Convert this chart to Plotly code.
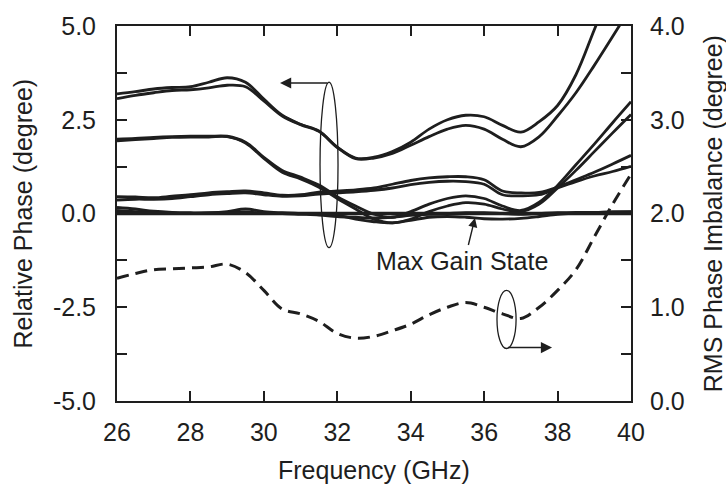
import plotly.graph_objects as go

freq = [26, 26.5, 27, 27.5, 28, 28.5, 29, 29.5, 30, 30.5, 31, 31.5, 32, 32.5, 33,
        33.5, 34, 34.5, 35, 35.5, 36, 36.5, 37, 37.5, 38, 38.5, 39, 39.5, 40]

phase_a = [3.19, 3.25, 3.32, 3.36, 3.38, 3.50, 3.62, 3.50, 3.05, 2.62, 2.38, 2.20, 1.77, 1.48, 1.50,
           1.65, 1.90, 2.25, 2.50, 2.62, 2.58, 2.35, 2.17, 2.45, 2.88, 3.70, 4.90, 6.10, 7.30]
phase_b = [3.06, 3.15, 3.22, 3.28, 3.30, 3.35, 3.42, 3.38, 3.00, 2.60, 2.37, 2.19, 1.76, 1.46, 1.48,
           1.60, 1.82, 2.05, 2.25, 2.35, 2.25, 1.98, 1.78, 2.05, 2.60, 3.22, 3.95, 4.72, 5.50]
phase_c1 = [1.98, 2.00, 2.03, 2.05, 2.06, 2.06, 2.06, 1.90, 1.50, 1.15, 0.97, 0.76, 0.45, 0.20, -0.02,
            -0.10, 0.05, 0.25, 0.40, 0.47, 0.40, 0.20, 0.08, 0.30, 0.75, 1.30, 1.85, 2.42, 2.98]
phase_c2 = [1.94, 1.97, 2.00, 2.03, 2.04, 2.04, 2.05, 1.88, 1.47, 1.10, 0.92, 0.70, 0.40, 0.12, -0.15,
            -0.25, -0.15, 0.05, 0.20, 0.29, 0.25, 0.12, 0.05, 0.25, 0.68, 1.15, 1.65, 2.15, 2.64]
phase_d1 = [0.45, 0.44, 0.42, 0.46, 0.50, 0.55, 0.58, 0.60, 0.55, 0.49, 0.50, 0.57, 0.60, 0.63, 0.68,
            0.78, 0.88, 0.95, 0.98, 0.98, 0.90, 0.60, 0.55, 0.56, 0.70, 0.90, 1.10, 1.32, 1.55]
phase_d2 = [0.36, 0.38, 0.38, 0.40, 0.45, 0.50, 0.53, 0.55, 0.50, 0.46, 0.47, 0.52, 0.55, 0.58, 0.62,
            0.68, 0.77, 0.83, 0.86, 0.85, 0.78, 0.50, 0.47, 0.50, 0.68, 0.85, 1.00, 1.12, 1.26]
phase_e1 = [0.16, 0.12, 0.06, 0.03, 0.02, 0.02, 0.05, 0.12, 0.05, 0.02, 0.00, -0.02, -0.05, -0.15, -0.22,
            -0.25, -0.18, -0.10, -0.08, -0.10, -0.14, -0.15, -0.13, -0.08, -0.02, 0.01, 0.03, 0.04, 0.05]
phase_e2 = [0.08, 0.05, 0.03, 0.01, 0.00, 0.01, 0.02, 0.04, 0.01, 0.00, -0.02, -0.04, -0.08, -0.10, -0.12,
            -0.10, -0.05, -0.02, 0.00, 0.02, 0.02, 0.00, -0.02, 0.00, 0.02, 0.03, 0.03, 0.04, 0.04]
phase_ref = [0.0] * len(freq)

rms = [1.31, 1.36, 1.40, 1.41, 1.42, 1.43, 1.46, 1.37, 1.18, 0.98, 0.93, 0.85, 0.72, 0.67, 0.69,
       0.75, 0.82, 0.92, 1.00, 1.05, 1.00, 0.93, 0.88, 1.00, 1.18, 1.40, 1.75, 2.10, 2.42]

x_ticks = [26, 28, 30, 32, 34, 36, 38, 40]
y1_ticks = [-5, -2.5, 0, 2.5, 5]
y1_text = ["-5.0", "-2.5", "0.0", "2.5", "5.0"]
y2_ticks = [0, 1, 2, 3, 4]
y2_text = ["0.0", "1.0", "2.0", "3.0", "4.0"]

INK = "#1e1e1e"
FONT = "Liberation Sans, Arial, sans-serif"
FS = 25

fig = go.Figure()
for s in [phase_a, phase_b, phase_c1, phase_c2, phase_d1, phase_d2, phase_e1, phase_e2]:
    fig.add_trace(go.Scatter(x=freq, y=s, mode="lines", line=dict(color=INK, width=2.8, shape="spline"),
                             showlegend=False))
fig.add_trace(go.Scatter(x=freq, y=phase_ref, mode="lines", line=dict(color=INK, width=3.6),
                         showlegend=False))
fig.add_trace(go.Scatter(x=freq, y=rms, mode="lines", yaxis="y2",
                         line=dict(color=INK, width=3, dash="12px,7px", shape="spline"),
                         showlegend=False))

axis_common = dict(showline=True, linewidth=2, linecolor=INK, ticks="inside", ticklen=10,
                   tickwidth=1.8, tickcolor=INK, showgrid=False, zeroline=False,
                   tickfont=dict(family=FONT, size=FS, color=INK))

fig.update_layout(
    width=726, height=490, margin=dict(l=117, r=95, t=15, b=89),
    paper_bgcolor="white", plot_bgcolor="white",
    xaxis=dict(range=[26, 40], tickvals=x_ticks, mirror="ticks", ticklabelstandoff=8, **axis_common),
    yaxis=dict(range=[-5, 5], tickvals=y1_ticks, ticktext=y1_text, ticklabelstandoff=14,
               minor=dict(dtick=1.25, ticks="inside", ticklen=10, tickwidth=1.8, tickcolor=INK),
               **axis_common),
    yaxis2=dict(range=[0, 4], tickvals=y2_ticks, ticktext=y2_text, overlaying="y", side="right",
                ticklabelstandoff=12,
                minor=dict(dtick=0.5, ticks="inside", ticklen=10, tickwidth=1.8, tickcolor=INK),
                **axis_common),
)

# titles
fig.add_annotation(text="Frequency (GHz)", xref="paper", yref="paper", x=0.5, y=-0.183,
                   showarrow=False, font=dict(family=FONT, size=FS, color=INK), yanchor="middle")
fig.add_annotation(text="Relative Phase (degree)", xref="paper", yref="paper", x=-0.183, y=0.5,
                   textangle=-90, showarrow=False, font=dict(family=FONT, size=FS, color=INK),
                   xanchor="center", yanchor="middle")
fig.add_annotation(text="RMS Phase Imbalance (degree)", xref="paper", yref="paper", x=1.159, y=0.5,
                   textangle=-90, showarrow=False, font=dict(family=FONT, size=FS, color=INK),
                   xanchor="center", yanchor="middle")

# ellipses
fig.add_shape(type="circle", xref="x", yref="y", x0=31.53, x1=32.02, y0=-0.91, y1=3.5,
              line=dict(color=INK, width=1.3))
fig.add_shape(type="circle", xref="x", yref="y2", x0=36.35, x1=36.87, y0=0.56, y1=1.18,
              line=dict(color=INK, width=1.3))

# arrows
fig.add_annotation(x=30.44, y=3.48, ax=31.77, ay=3.48, xref="x", yref="y", axref="x", ayref="y",
                   text="", showarrow=True, arrowhead=2, arrowsize=1.6, arrowwidth=1.4, arrowcolor=INK)
fig.add_annotation(x=37.85, y=0.57, ax=36.61, ay=0.57, xref="x", yref="y2", axref="x", ayref="y2",
                   text="", showarrow=True, arrowhead=2, arrowsize=1.6, arrowwidth=1.4, arrowcolor=INK)
fig.add_annotation(x=35.75, y=-0.12, ax=35.56, ay=-0.88, xref="x", yref="y", axref="x", ayref="y",
                   text="", showarrow=True, arrowhead=2, arrowsize=1.3, arrowwidth=1.4, arrowcolor=INK)
fig.add_annotation(x=35.4, y=-1.27, xref="x", yref="y", text="Max Gain State", showarrow=False,
                   font=dict(family=FONT, size=FS, color=INK), xanchor="center", yanchor="middle")

fig.write_html("out.html")
